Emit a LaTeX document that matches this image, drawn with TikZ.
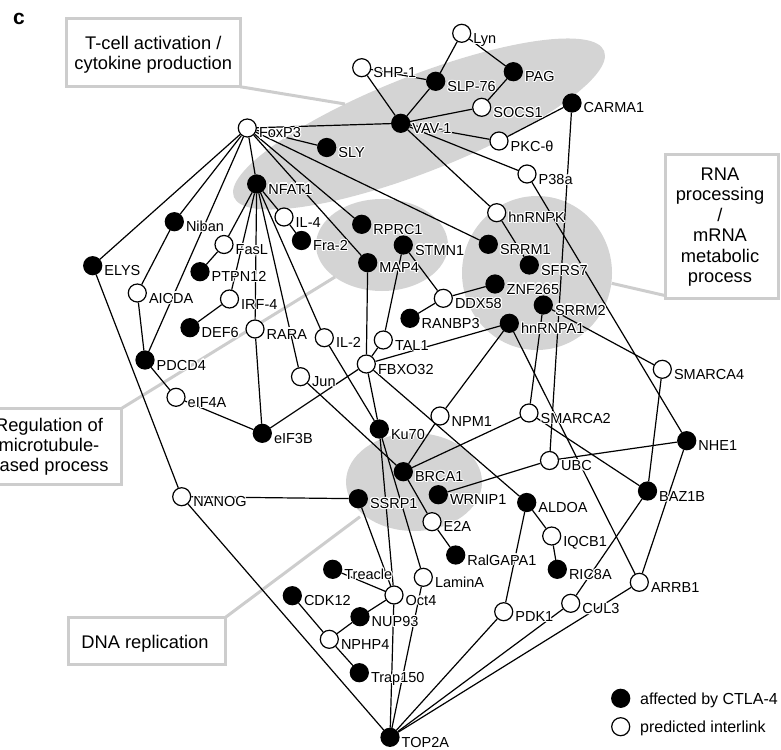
\documentclass[tikz,border=0pt]{standalone}
\usepackage{fontspec}
\setmainfont{Liberation Sans}
\usetikzlibrary{calc}
\pgfdeclarelayer{bg}
\pgfdeclarelayer{edgelayer}
\pgfsetlayers{bg,edgelayer,main}
\definecolor{greyfill}{RGB}{212,212,212}
\definecolor{greyline}{RGB}{205,205,205}
\newsavebox\halobox
\newcommand\haloc[2]{\rlap{\color{white}\kern#1\raise#2\copy\halobox}}
\newcommand\halo[1]{\setbox\halobox\hbox{#1}\haloc{1.2pt}{0pt}\haloc{-1.2pt}{0pt}\haloc{0pt}{1.2pt}\haloc{0pt}{-1.2pt}\haloc{.85pt}{.85pt}\haloc{.85pt}{-.85pt}\haloc{-.85pt}{.85pt}\haloc{-.85pt}{-.85pt}\copy\halobox}
\newcommand\nd[5]{\node[#4] (#1) at (#2,#3) {};\node[lbl] (#1l) at ($(#1)+(11.5,10)$) {\halo{#5}};}
\begin{document}
\begin{tikzpicture}[x=1pt,y=-1pt,
  fn/.style={circle,fill=black,draw=black,line width=1.2pt,minimum size=18pt,inner sep=0pt},
  on/.style={circle,fill=white,draw=black,line width=1.2pt,minimum size=18pt,inner sep=0pt},
  lbl/.style={anchor=base west,inner sep=0pt,font=\fontsize{14.5}{17}\selectfont},
  edge/.style={line width=1.2pt,black},
  blob/.style={fill=greyfill,draw=none},
  boxst/.style={draw=greyline,line width=3pt,fill=white},
  gline/.style={draw=greyline,line width=3pt},
  boxtxt/.style={anchor=base,inner sep=0pt,font=\fontsize{18.3}{20.5}\selectfont},
  legtxt/.style={anchor=base west,inner sep=0pt,font=\fontsize{16}{18}\selectfont}]
\useasboundingbox (0,0) rectangle (781,749);

% nodes
\nd{fox}{247.3}{128}{on}{FoxP3}
\nd{nfat}{256.7}{184}{fn}{NFAT1}
\nd{sly}{326.7}{147.5}{fn}{SLY}
\nd{vav}{400.7}{123.3}{fn}{VAV-1}
\nd{shp}{361.7}{67.7}{on}{SHP-1}
\nd{slp}{435.7}{81.3}{fn}{SLP-76}
\nd{lyn}{461.7}{33.3}{on}{Lyn}
\nd{pag}{513.3}{71.7}{fn}{PAG}
\nd{socs}{481.7}{107.3}{on}{SOCS1}
\nd{pkc}{499}{141}{on}{PKC-θ}
\nd{carma}{572}{103}{fn}{CARMA1}
\nd{p38}{527}{174}{on}{P38a}
\nd{hnrnpk}{496.7}{212.7}{on}{hnRNPK}
\nd{rprc}{361.7}{224.3}{fn}{RPRC1}
\nd{stmn}{403.3}{245}{fn}{STMN1}
\nd{srrma}{488.3}{244.3}{fn}{SRRM1}
\nd{map}{367.7}{262.7}{fn}{MAP4}
\nd{sfrs}{529.3}{265}{fn}{SFRS7}
\nd{znf}{495}{284}{fn}{ZNF265}
\nd{ddx}{443.3}{298.3}{on}{DDX58}
\nd{srrmb}{543.3}{305}{fn}{SRRM2}
\nd{ranbp}{410}{318.3}{fn}{RANBP3}
\nd{hnrnpa}{509.3}{323.3}{fn}{hnRNPA1}
\nd{iltwo}{324.3}{337.7}{on}{IL-2}
\nd{tal}{383.3}{340}{on}{TAL1}
\nd{fbx}{366.3}{364}{on}{FBXO32}
\nd{niban}{174.3}{221.7}{fn}{Niban}
\nd{ilfour}{284}{217}{on}{IL-4}
\nd{fra}{301.5}{240.5}{fn}{Fra-2}
\nd{fasl}{224}{244.5}{on}{FasL}
\nd{elys}{92.7}{265.7}{fn}{ELYS}
\nd{ptpn}{200}{271.7}{fn}{PTPN12}
\nd{aicda}{137.3}{293}{on}{AICDA}
\nd{irf}{229.5}{299}{on}{IRF-4}
\nd{def}{190}{327.7}{fn}{DEF6}
\nd{rara}{255}{329}{on}{RARA}
\nd{pdcd}{145}{360}{fn}{PDCD4}
\nd{jun}{300.5}{376.7}{on}{Jun}
\nd{eifa}{176}{397.3}{on}{eIF4A}
\nd{eifb}{262.3}{433.3}{fn}{eIF3B}
\nd{nanog}{181.7}{496.7}{on}{NANOG}
\nd{smfour}{662.3}{369.3}{on}{SMARCA4}
\nd{smtwo}{529}{413}{on}{SMARCA2}
\nd{nhe}{686.7}{440.7}{fn}{NHE1}
\nd{ubc}{549.5}{460.5}{on}{UBC}
\nd{baz}{647.5}{491}{fn}{BAZ1B}
\nd{npm}{440}{416}{on}{NPM1}
\nd{ku}{379.3}{429}{fn}{Ku70}
\nd{brca}{403.3}{471.7}{fn}{BRCA1}
\nd{ssrp}{358.3}{498.7}{fn}{SSRP1}
\nd{wrnip}{438.3}{494.7}{fn}{WRNIP1}
\nd{aldoa}{526.7}{502.5}{fn}{ALDOA}
\nd{etwoa}{432}{521.7}{on}{E2A}
\nd{ralgap}{455.7}{555}{fn}{RalGAPA1}
\nd{treacle}{332.7}{569.3}{fn}{Treacle}
\nd{lamina}{423.3}{577.3}{on}{LaminA}
\nd{oct}{394}{595}{on}{Oct4}
\nd{cdk}{292.3}{595.7}{fn}{CDK12}
\nd{pdk}{503.7}{611.7}{on}{PDK1}
\nd{nup}{360}{616.7}{fn}{NUP93}
\nd{nphp}{329.3}{639.3}{on}{NPHP4}
\nd{trap}{359.3}{672.7}{fn}{Trap150}
\nd{top}{390}{737.3}{fn}{TOP2A}
\nd{iqcb}{551.7}{536}{on}{IQCB1}
\nd{ric}{557.3}{569.3}{fn}{RIC8A}
\nd{arrb}{639.3}{582.3}{on}{ARRB1}
\nd{cul}{570.7}{603.3}{on}{CUL3}

% legend
\node[fn] (legf) at (620.7,698.3) {};
\node[legtxt] (legft) at (640,704) {affected by CTLA-4};
\node[on] (lego) at (620.7,726.7) {};
\node[legtxt] (legot) at (640,732.4) {predicted interlink};

% panel letter
\node[anchor=base,inner sep=0pt,font=\fontsize{21}{24}\selectfont\bfseries] (letter) at (19,25) {c};

\begin{pgfonlayer}{bg}
\fill[blob,rotate around={21.5:(419,124)}] (419,124) ellipse [x radius=199,y radius=48];
\fill[blob] (382,245) ellipse [x radius=66,y radius=46];
\fill[blob] (537,273) ellipse [x radius=75,y radius=77];
\fill[blob] (414,482) ellipse [x radius=68,y radius=49];
\coordinate (tc1) at (240,86.7); \coordinate (tc2) at (345,104);
\coordinate (rn1) at (665.7,295.7); \coordinate (rn2) at (611.7,283.3);
\coordinate (rg1) at (121.7,408.3); \coordinate (rg2) at (335,277);
\coordinate (dn1) at (225,617.7); \coordinate (dn2) at (360,516.7);
\draw[gline] (tc1) -- (tc2);
\draw[gline] (rn1) -- (rn2);
\draw[gline] (rg1) -- (rg2);
\draw[gline] (dn1) -- (dn2);
\draw[boxst] (66.7,18.3) rectangle (240,86.7);
\node[boxtxt] (tct1) at (153.3,50) {T-cell activation /};
\node[boxtxt] (tct2) at (153.3,70) {cytokine production};
\draw[boxst] (665.7,154) rectangle (778.3,298.3);
\node[boxtxt] (rnt1) at (720,180) {RNA};
\node[boxtxt] (rnt2) at (720,200.5) {processing};
\node[boxtxt] (rnt3) at (720,221) {/};
\node[boxtxt] (rnt4) at (720,241.5) {mRNA};
\node[boxtxt] (rnt5) at (720,262) {metabolic};
\node[boxtxt] (rnt6) at (720,282.5) {process};
\draw[boxst] (-25,408.3) rectangle (121.7,484);
\node[boxtxt] (rgt1) at (49,431.5) {Regulation of};
\node[boxtxt] (rgt2) at (49,451.5) {microtubule-};
\node[boxtxt] (rgt3) at (49,471.5) {based process};
\draw[boxst] (68.3,617.7) rectangle (225,664);
\node[boxtxt] (dnt1) at (145,648) {DNA replication};
\end{pgfonlayer}

\begin{pgfonlayer}{edgelayer}
\foreach \a/\b in {fox/elys,fox/niban,fox/pdcd,fox/nfat,fox/map,fox/rprc,fox/srrma,fox/sly,fox/vav,
  nfat/fasl,nfat/irf,nfat/rara,nfat/jun,nfat/iltwo,nfat/ilfour,
  shp/vav,shp/slp,slp/vav,slp/lyn,lyn/pag,pag/socs,socs/vav,vav/pkc,vav/p38,vav/hnrnpk,
  pkc/carma,carma/ubc,p38/nhe,hnrnpk/sfrs,
  fasl/ptpn,irf/def,ilfour/fra,iltwo/ku,rara/eifb,jun/brca,
  niban/aicda,aicda/pdcd,pdcd/eifa,eifa/eifb,eifb/fbx,
  elys/nanog,nanog/ssrp,nanog/top,
  map/fbx,stmn/tal,stmn/ddx,tal/fbx,ddx/znf,ddx/ranbp,
  fbx/hnrnpa,fbx/ku,fbx/aldoa,
  hnrnpa/npm,hnrnpa/arrb,npm/brca,brca/smtwo,brca/etwoa,etwoa/ralgap,
  srrmb/smtwo,srrmb/smfour,smfour/baz,smtwo/baz,
  nhe/ubc,nhe/arrb,ubc/wrnip,aldoa/iqcb,iqcb/ric,aldoa/pdk,pdk/top,baz/cul,cul/top,arrb/top,
  ssrp/oct,ku/oct,ku/lamina,lamina/top,oct/top,oct/treacle,oct/nup,nup/nphp,nphp/cdk,nphp/trap}
  \draw[edge] (\a) -- (\b);
\end{pgfonlayer}
\end{tikzpicture}
\end{document}
